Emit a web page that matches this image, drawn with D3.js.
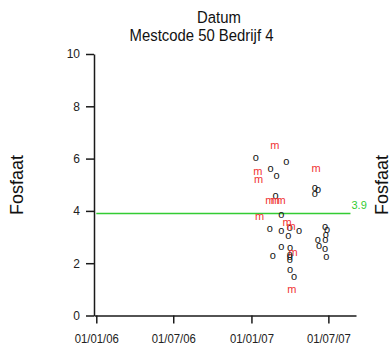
<!DOCTYPE html>
<html>
<head>
<meta charset="utf-8">
<script src="https://cdn.jsdelivr.net/npm/d3@7"></script>
<style>
  body { margin: 0; background: #fff; }
  text { font-family: "Liberation Sans", Arial, sans-serif; }
</style>
</head>
<body>
<script>
// black "o" points
var oDates = ["2007-01-11", "2007-03-24", "2007-02-15", "2007-03-01", "2007-02-27",
  "2007-05-30", "2007-06-07", "2007-05-30", "2007-03-12", "2007-02-13",
  "2007-03-12", "2007-04-01", "2007-04-23", "2007-03-29", "2007-06-23",
  "2007-06-28", "2007-06-25", "2007-06-06", "2007-06-24", "2007-06-09",
  "2007-06-23", "2007-03-12", "2007-04-02", "2007-02-20", "2007-04-01",
  "2007-04-01", "2007-04-01", "2007-06-26", "2007-04-02", "2007-04-11"];
var oValues = [6.01, 5.85, 5.59, 5.32, 4.56,
  4.88, 4.78, 4.63, 3.82, 3.30,
  3.22, 3.33, 3.21, 3.03, 3.38,
  3.26, 3.08, 2.89, 2.88, 2.65,
  2.55, 2.61, 2.57, 2.26, 2.31,
  2.22, 2.12, 2.23, 1.72, 1.45];

// red "m" points
var mDates = ["2007-02-25", "2007-01-16", "2007-01-18", "2007-06-02", "2007-02-13",
  "2007-02-26", "2007-03-12", "2007-01-20", "2007-03-26", "2007-04-04",
  "2007-04-09", "2007-04-06"];
var mValues = [6.49, 5.47, 5.16, 5.59, 4.38,
  4.38, 4.38, 3.78, 3.53, 3.37,
  2.38, 0.98];

var xTicks = ["2006-01-01", "2006-07-01", "2007-01-01", "2007-07-01"];
var xTickLabels = ["01/01/06", "01/07/06", "01/01/07", "01/07/07"];
var yTicks = [0, 2, 4, 6, 8, 10];
var refValue = 3.9;
var refRange = ["2006-01-01", "2007-08-22"];

var parse = d3.utcParse("%Y-%m-%d");

var width = 389, height = 347;
var axisColor = "#1a1a1a";

var x = d3.scaleUtc()
  .domain([parse("2006-01-01").getTime() - 5.4 * 864e5, parse("2007-09-04")])
  .range([94, 356]);

var y = d3.scaleLinear()
  .domain([0, 10])
  .range([315.5, 54]);

var svg = d3.select("body").append("svg")
  .attr("width", width)
  .attr("height", height);

// titles
svg.append("text")
  .attr("transform", "translate(219,23) scale(0.875,1)")
  .attr("text-anchor", "middle")
  .style("font-size", "17px")
  .attr("fill", "#111")
  .text("Datum");

svg.append("text")
  .attr("transform", "translate(201.5,40.5) scale(0.875,1)")
  .attr("text-anchor", "middle")
  .style("font-size", "17px")
  .attr("fill", "#111")
  .text("Mestcode 50 Bedrijf 4");

// side labels
[23, 387.5].forEach(function (bx) {
  svg.append("text")
    .attr("transform", "translate(" + bx + ",185) rotate(-90)")
    .attr("text-anchor", "middle")
    .style("font-size", "18px")
    .attr("fill", "#111")
    .text("Fosfaat");
});

var yAxis = d3.axisLeft(y)
  .tickValues(yTicks)
  .tickSize(8)
  .tickSizeOuter(0)
  .tickPadding(6)
  .tickFormat(d3.format("d"));

var gy = svg.append("g")
  .attr("transform", "translate(94,0)")
  .call(yAxis);

var xAxis = d3.axisBottom(x)
  .tickValues(xTicks.map(parse))
  .tickSize(8)
  .tickSizeOuter(0)
  .tickFormat(function (d, i) { return xTickLabels[i]; });

var gx = svg.append("g")
  .attr("transform", "translate(0," + y(0) + ")")
  .call(xAxis);

[gx, gy].forEach(function (g) {
  g.selectAll("path, line")
    .attr("stroke", axisColor)
    .attr("stroke-width", 1.5);
  g.selectAll("text")
    .attr("fill", "#222")
    .style("font-family", "'Liberation Sans', Arial, sans-serif");
});

gy.selectAll("text").style("font-size", "12px");

gx.selectAll("text")
  .style("font-size", "13px")
  .attr("y", 0)
  .attr("dy", null)
  .attr("transform", "translate(0,27) scale(0.87,1)");

// reference line
svg.append("line")
  .attr("x1", x(parse(refRange[0])))
  .attr("x2", x(parse(refRange[1])))
  .attr("y1", y(refValue))
  .attr("y2", y(refValue))
  .attr("stroke", "#33cc33")
  .attr("stroke-width", 1.3);

svg.append("text")
  .attr("x", x(parse(refRange[1])) + 1)
  .attr("y", y(refValue) - 5)
  .style("font-size", "11px")
  .attr("fill", "#33cc33")
  .text(refValue);

// points
var markSize = 11;

svg.selectAll(".pt-o")
  .data(oDates.map(function (d, i) { return [parse(d), oValues[i]]; }))
  .enter().append("text")
  .attr("class", "pt-o")
  .attr("x", function (d) { return x(d[0]); })
  .attr("y", function (d) { return y(d[1]) + markSize * 0.26; })
  .attr("text-anchor", "middle")
  .style("font-size", markSize + "px")
  .attr("fill", "#111")
  .text("o");

svg.selectAll(".pt-m")
  .data(mDates.map(function (d, i) { return [parse(d), mValues[i]]; }))
  .enter().append("text")
  .attr("class", "pt-m")
  .attr("x", function (d) { return x(d[0]); })
  .attr("y", function (d) { return y(d[1]) + markSize * 0.26; })
  .attr("text-anchor", "middle")
  .style("font-size", markSize + "px")
  .attr("fill", "#f03333")
  .text("m");
</script>
</body>
</html>
